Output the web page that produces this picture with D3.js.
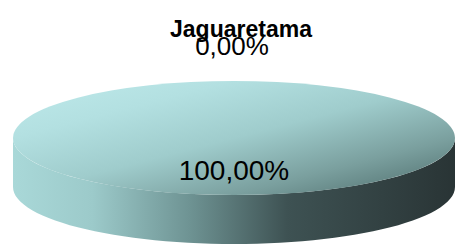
<!DOCTYPE html>
<html>
<head>
<meta charset="utf-8">
<script src="https://cdn.jsdelivr.net/npm/d3@7"></script>
<style>
  body { margin: 0; background: #fff; }
  text { font-family: "Liberation Sans", Arial, sans-serif; }
</style>
</head>
<body>
<div id="chart"></div>
<script>
  var width = 456;
  var height = 246;

  // dados
  var title = "Jaguaretama";
  var categories = ["Outros", "Jaguaretama"];
  var values = [0, 100];

  var cx = 234, cy = 138;
  var rx = 221, ry = 57;
  var depth = 49;

  var svg = d3.select("#chart").append("svg")
      .attr("width", width)
      .attr("height", height);

  var defs = svg.append("defs");
  // degrade do topo
  var gTop = defs.append("linearGradient").attr("id", "gtop")
      .attr("x1", "0%").attr("y1", "0%").attr("x2", "100%").attr("y2", "100%");
  gTop.append("stop").attr("offset", "0%").attr("stop-color", "#bfeaeb");
  gTop.append("stop").attr("offset", "25%").attr("stop-color", "#b3e0e1");
  gTop.append("stop").attr("offset", "50%").attr("stop-color", "#9fcccc");
  gTop.append("stop").attr("offset", "75%").attr("stop-color", "#7a9f9e");
  gTop.append("stop").attr("offset", "90%").attr("stop-color", "#5d7e7d");
  gTop.append("stop").attr("offset", "100%").attr("stop-color", "#4d6b6a");
  // degrade da lateral
  var gSide = defs.append("linearGradient").attr("id", "gside")
      .attr("x1", "0%").attr("y1", "0%").attr("x2", "100%").attr("y2", "0%");
  gSide.append("stop").attr("offset", "0%").attr("stop-color", "#a9d8d8");
  gSide.append("stop").attr("offset", "18%").attr("stop-color", "#9ccaca");
  gSide.append("stop").attr("offset", "40%").attr("stop-color", "#6e9393");
  gSide.append("stop").attr("offset", "62%").attr("stop-color", "#3e5253");
  gSide.append("stop").attr("offset", "100%").attr("stop-color", "#293435");

  var pie = d3.pie().sort(null).value(function(d) { return d; });
  var arcs = pie(values);
  var total = d3.sum(values);

  // ponto na elipse (angulo do d3: 0 = topo, sentido horario)
  function px(a, r) { return cx + r * rx * Math.sin(a); }
  function py(a, r) { return cy - r * ry * Math.cos(a); }

  // lateral: metade da frente
  function sidePath(a0, a1) {
    var s = Math.max(a0, Math.PI / 2), e = Math.min(a1, 3 * Math.PI / 2);
    if (e <= s) return null;
    var p = d3.path();
    var n = 60;
    for (var i = 0; i <= n; i++) {
      var a = s + (e - s) * i / n;
      if (i == 0) p.moveTo(px(a, 1), py(a, 1));
      else p.lineTo(px(a, 1), py(a, 1));
    }
    for (var j = n; j >= 0; j--) {
      var b = s + (e - s) * j / n;
      p.lineTo(px(b, 1), py(b, 1) + depth);
    }
    p.closePath();
    return p.toString();
  }

  var arc = d3.arc().innerRadius(0).outerRadius(rx);

  arcs.forEach(function(d) {
    if (d.endAngle - d.startAngle <= 0) return;
    var sp = sidePath(d.startAngle, d.endAngle);
    if (sp) svg.append("path").attr("d", sp).attr("fill", "url(#gside)");
  });

  var topFace = svg.append("g")
      .attr("transform", "translate(" + cx + "," + cy + ") scale(1," + (ry / rx) + ")");
  topFace.selectAll("path")
    .data(arcs.filter(function(d) { return d.endAngle > d.startAngle; }))
    .enter().append("path")
      .attr("d", arc)
      .attr("fill", "url(#gtop)");

  var fmt = function(v) { return d3.format(".2f")(v).replace(".", ",") + "%"; };

  svg.selectAll("text.lbl")
    .data(arcs)
    .enter().append("text")
      .attr("class", "lbl")
      .attr("text-anchor", "middle")
      .attr("font-size", function(d) { return d.value > 0 ? 28 : 26; })
      .attr("fill", "#000")
      .attr("x", function(d) {
        var m = (d.startAngle + d.endAngle) / 2;
        return d.value > 0 ? cx : px(m, 1) - 2;
      })
      .attr("y", function(d) {
        var m = (d.startAngle + d.endAngle) / 2;
        return d.value > 0 ? py(m, 0.56) + 10 : py(m, 1.45);
      })
      .text(function(d) { return fmt(d.value / total * 100); });

  svg.append("text")
    .attr("x", 241)
    .attr("y", 37)
    .attr("text-anchor", "middle")
    .attr("font-size", 23)
    .attr("font-weight", "bold")
    .attr("fill", "#000")
    .text(title);
</script>
</body>
</html>
